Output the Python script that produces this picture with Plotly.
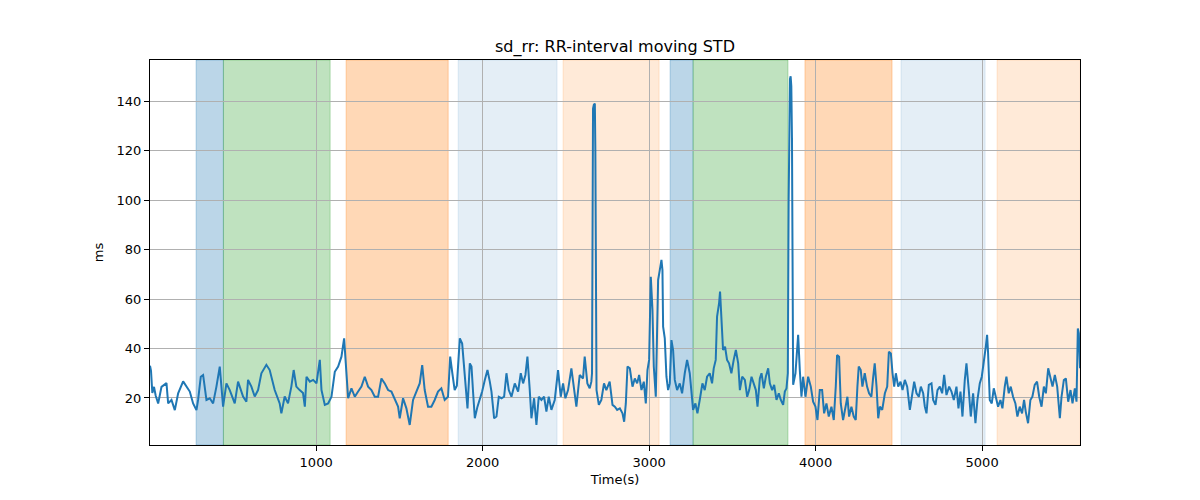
import plotly.graph_objects as go

# ---- data ----
time_s = [
    2, 8, 16, 26, 36, 51, 71, 101, 111, 131, 151, 171, 201, 221, 241, 261, 281, 291, 307, 321,
    341, 361, 381, 401, 421, 441, 461, 481, 511, 531, 561, 581, 591, 611, 631, 651, 671, 701, 721, 751,
    781, 791, 811, 831, 851, 865, 881, 901, 921, 932, 942, 962, 982, 1002, 1022, 1032, 1052, 1072, 1092,
    1112, 1132, 1152, 1168, 1178, 1192, 1212, 1232, 1252, 1272, 1292, 1312, 1332, 1352, 1372, 1392, 1412,
    1432, 1452, 1472, 1492, 1502, 1522, 1542, 1562, 1582, 1602, 1622, 1637, 1652, 1672, 1692, 1712, 1732,
    1752, 1772, 1792, 1805, 1818, 1832, 1845, 1863, 1877, 1893, 1909, 1923, 1933, 1943, 1953, 1969, 1983,
    1997, 2013, 2029, 2043, 2053, 2069, 2083, 2097, 2113, 2129, 2143, 2157, 2173, 2193, 2213, 2229, 2243,
    2257, 2269, 2283, 2293, 2309, 2323, 2337, 2353, 2369, 2383, 2397, 2413, 2433, 2453, 2469, 2483, 2497,
    2513, 2533, 2549, 2563, 2583, 2603, 2613, 2629, 2643, 2653, 2657, 2660, 2663, 2668, 2674, 2677, 2680,
    2684, 2698, 2713, 2729, 2743, 2763, 2780, 2794, 2808, 2824, 2840, 2850, 2860, 2870, 2884, 2900, 2914,
    2928, 2940, 2954, 2968, 2980, 2990, 3000, 3010, 3020, 3028, 3040, 3048, 3054, 3064, 3074, 3080, 3084,
    3094, 3104, 3114, 3124, 3134, 3144, 3154, 3168, 3184, 3198, 3214, 3228, 3244, 3254, 3264, 3278, 3290,
    3304, 3320, 3334, 3348, 3364, 3378, 3388, 3400, 3408, 3420, 3426, 3434, 3444, 3456, 3468, 3480, 3494,
    3508, 3521, 3535, 3545, 3559, 3575, 3589, 3601, 3615, 3629, 3641, 3651, 3665, 3675, 3689, 3701, 3715,
    3725, 3739, 3751, 3765, 3779, 3791, 3805, 3815, 3825, 3833, 3838, 3842, 3846, 3850, 3854, 3858, 3861,
    3865, 3879, 3895, 3905, 3915, 3925, 3939, 3955, 3971, 3985, 3999, 4011, 4025, 4039, 4051, 4065, 4079,
    4095, 4109, 4121, 4129, 4141, 4151, 4165, 4179, 4191, 4201, 4215, 4229, 4241, 4251, 4259, 4271, 4281,
    4295, 4309, 4321, 4335, 4345, 4355, 4366, 4376, 4386, 4400, 4416, 4430, 4440, 4452, 4462, 4472, 4482,
    4496, 4510, 4522, 4536, 4550, 4566, 4580, 4592, 4606, 4620, 4632, 4646, 4656, 4666, 4680, 4696, 4706,
    4720, 4732, 4746, 4760, 4772, 4786, 4802, 4816, 4830, 4846, 4858, 4870, 4882, 4896, 4906, 4920, 4932,
    4946, 4960, 4972, 4986, 4998, 5010, 5022, 5030, 5036, 5046, 5058, 5070, 5082, 5096, 5110, 5122, 5136,
    5146, 5160, 5172, 5186, 5200, 5212, 5226, 5240, 5252, 5262, 5276, 5290, 5302, 5316, 5330, 5343, 5357,
    5371, 5383, 5397, 5411, 5423, 5437, 5451, 5467, 5477, 5491, 5503, 5517, 5531, 5543, 5557, 5567, 5575,
    5581, 5588,
]
sd_rr_ms = [
    33, 31, 22, 24.5, 21, 17.8, 24.5, 26, 17.8, 19.2, 15.1, 21.9, 26.7, 24.6, 22.6, 17.8, 15.1, 19.2, 28.6, 29.3,
    19.2, 19.9, 17.8, 24.6, 32.7, 16.5, 25.9, 23.2, 17.8, 26.6, 20.6, 18.5, 27.3, 24.6, 20.6, 23.2, 30, 33.4, 31.3, 23.2,
    17.8, 13.8, 20.6, 17.8, 24.6, 31.3, 24.6, 23.2, 22, 16.5, 28.6, 26.6, 27.3, 25.9, 35.4, 23.2, 17.2, 17.8, 20.5,
    30.6, 32.7, 36.7, 44.1, 34, 19.9, 23.9, 20.5, 22.6, 24.6, 28.6, 24.6, 23.2, 20.5, 20.5, 27.9, 25.9,
    23.2, 22.6, 19.2, 16.5, 11.8, 19.9, 15.8, 9.1, 19.2, 22.6, 25.9, 33.3, 23.2, 16.5, 16.5, 19.2, 22.6,
    23.9, 19.2, 20.5, 36.7, 30, 23.2, 25, 44.1, 42, 27.3, 15.8, 34, 32.7, 21.9, 11.8, 16.5, 19.2,
    22.6, 27.3, 31.3, 26.6, 22.6, 11.8, 12.5, 20.5, 19.9, 20.5, 30, 23.2, 20.5, 25.9, 22.6, 30, 25.9,
    29.3, 36.7, 23.2, 11.8, 19.9, 9.1, 20.5, 19.2, 20.5, 14.5, 20.5, 15.2, 19.2, 31.3, 20.5, 25.9, 19.9,
    23.2, 32, 23.2, 16.5, 29.3, 27.9, 36.7, 25.9, 23.9, 26.6, 30, 100, 137, 138.5, 139, 120, 40,
    23.2, 17.2, 19.2, 25.9, 23.2, 26.6, 17.2, 16.5, 15.2, 15.8, 13.8, 10.4, 17.8, 32.7, 32, 24.6, 27.9,
    25.9, 29.3, 23.2, 26.6, 17.8, 31.3, 35.4, 69, 55.6, 32.7, 20.5, 46.1, 67.7, 71.7, 75.8, 71.7, 48.8,
    44.1, 28.6, 23.2, 25.9, 43.4, 39.4, 27.3, 23.2, 25.9, 21.9, 30, 35.4, 30, 20.5, 15.2, 17.8, 13.8,
    19.2, 25.9, 23.2, 28.6, 30, 25.9, 32, 35.4, 52.9, 58.2, 63, 52.9, 39.4, 40.7, 35.4, 34, 30,
    35.4, 39.4, 34, 23.2, 28.6, 27.3, 20.5, 23.2, 28.6, 25.9, 23.2, 16.5, 27.9, 30, 23.9, 28.6, 32,
    25.9, 23.2, 25.3, 19.2, 21.9, 19.2, 17.2, 22.6, 23.9, 30, 100, 140, 149, 150, 146, 125, 60,
    25.3, 30, 45.5, 31.3, 20.5, 28.6, 20.5, 28.6, 24.6, 18.5, 16.5, 11.1, 23.2, 23.2, 13.8, 17.8, 12.5,
    16.5, 11.1, 24.6, 37.4, 36.7, 17.8, 11.1, 16.5, 20.5, 12.5, 16.5, 12.5, 11.1, 24.6, 32.7, 31.3, 24.6,
    30, 24.6, 21.9, 20.5, 27.9, 34, 24.6, 11.8, 16.5, 15.2, 21.9, 24.6, 38.7, 38, 30, 24.6, 30,
    24.6, 26.6, 23.2, 27.3, 24.6, 15.2, 22.6, 26.6, 21.9, 20.5, 24.6, 21.9, 16.5, 13.8, 25.3, 25.9, 19.2,
    17.2, 23.2, 24.6, 21.9, 29.3, 21.2, 24.6, 22.6, 19.2, 24.6, 15.8, 22.6, 12.5, 27.3, 34, 23.2, 12.5,
    21.9, 9.8, 19.2, 25.9, 28.6, 34, 40.7, 45.5, 38, 19.2, 17.8, 23.9, 20.5, 16.5, 19.2, 15.8, 24.6,
    28.6, 21.9, 24.6, 20.5, 17.8, 12.5, 16.5, 13.8, 19.2, 14.5, 9.8, 19.2, 20.5, 25.3, 26.6, 20.5, 16.5,
    24.6, 21.9, 32, 28.6, 24.6, 29.3, 24.6, 11.8, 20.5, 27.3, 27.9, 18.5, 23.2, 17.8, 23.9, 18.5, 48.1,
    46.1, 32,
]

# shaded phases: start, end, colour, opacity
span_start = [279, 443, 1180, 1853, 2483, 3126, 3264, 3936, 4513, 5090]
span_end = [443, 1084, 1793, 2447, 3060, 3264, 3834, 4459, 5018, 5590]
span_color = ["31,119,180", "44,160,44", "255,127,14", "31,119,180", "255,127,14",
              "31,119,180", "44,160,44", "255,127,14", "31,119,180", "255,127,14"]
span_alpha = [0.3, 0.3, 0.3, 0.12, 0.16, 0.3, 0.3, 0.3, 0.12, 0.16]

x_ticks = [1000, 2000, 3000, 4000, 5000]
y_ticks = [20, 40, 60, 80, 100, 120, 140]

fig = go.Figure()
fig.add_trace(go.Scatter(x=time_s, y=sd_rr_ms, mode="lines",
                         line=dict(color="#1f77b4", width=2), showlegend=False))

for s, e, c, a in zip(span_start, span_end, span_color, span_alpha):
    fig.add_shape(type="rect", xref="x", yref="paper", x0=s, x1=e, y0=0, y1=1,
                  fillcolor=f"rgba({c},{a})", line=dict(color=f"rgba({c},{a})", width=1),
                  layer="below")

font = "DejaVu Sans, Arial, sans-serif"
fig.update_layout(
    width=1200, height=500,
    margin=dict(l=142, r=128, t=52, b=63),
    paper_bgcolor="white", plot_bgcolor="white",
    font=dict(family=font, size=13, color="black"),
    title=dict(text="sd_rr: RR-interval moving STD", x=0.5, xref="paper",
               y=1 - 38 / 500, yref="container", yanchor="middle",
               font=dict(size=16, color="black", family=font)),
)
fig.update_xaxes(
    range=[2, 5588], tickvals=x_ticks, ticks="outside", ticklen=5, tickwidth=1,
    tickcolor="black", showgrid=True, gridcolor="#b0b0b0", gridwidth=1,
    showline=True, linecolor="black", linewidth=1, mirror=True, zeroline=False,
    title=dict(text="Time(s)", standoff=6, font=dict(size=13)),
)
fig.update_yaxes(
    range=[1.0, 156.6], tickvals=y_ticks, ticks="outside", ticklen=5, tickwidth=1,
    tickcolor="black", showgrid=True, gridcolor="#b0b0b0", gridwidth=1,
    showline=True, linecolor="black", linewidth=1, mirror=True, zeroline=False,
    title=dict(text="ms", standoff=10, font=dict(size=13)),
)

fig.write_html("out.html")
